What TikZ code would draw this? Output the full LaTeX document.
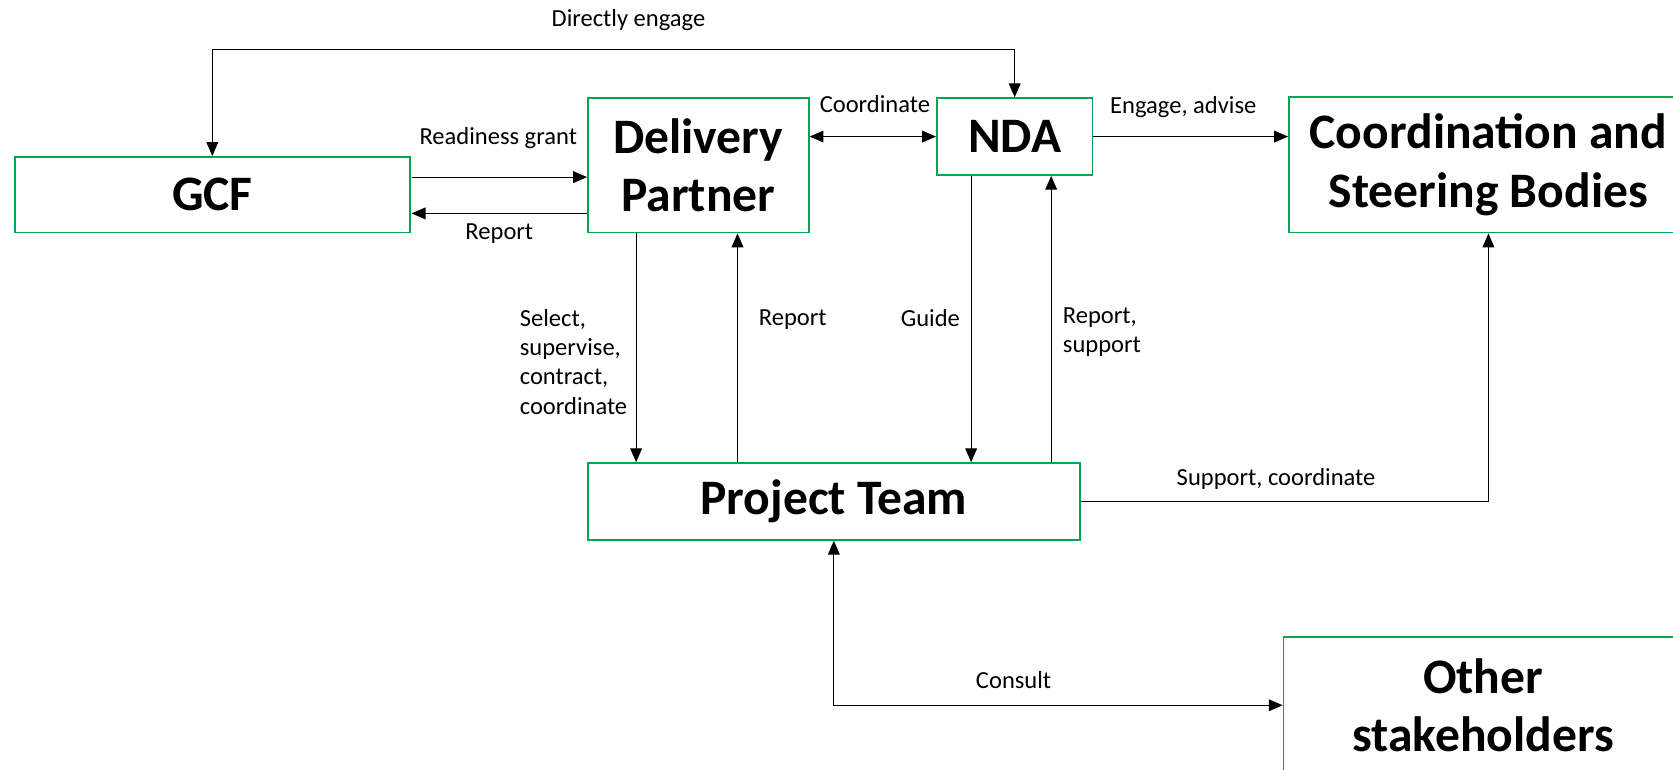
\documentclass[tikz,border=0pt]{standalone}
\usepackage{fontspec}
\setmainfont{Carlito}
\usetikzlibrary{arrows.meta,calc}
\definecolor{boxgreen}{RGB}{0,166,80}
\tikzset{
  entity/.style={draw=boxgreen,line width=1.6pt,inner sep=0pt,align=center,
    font=\fontsize{46.5}{55}\selectfont\bfseries},
  flow/.style={line width=1.1pt,-{Triangle[length=13pt,width=11pt]}},
  twoway/.style={line width=1.1pt,{Triangle[length=13pt,width=11pt]}-{Triangle[length=13pt,width=11pt]}},
  lbl/.style={inner sep=0pt,font=\fontsize{23}{27.5}\selectfont}
}
\begin{document}
\begin{tikzpicture}[x=1pt,y=1pt,yscale=-1,xscale=1]
\useasboundingbox (0,0) rectangle (1568,721);
\node[entity,minimum width=370pt,minimum height=71pt] (gcf) at (199,182.5) {GCF};
\node[entity,minimum width=207pt,minimum height=126pt] (dp) at (654.5,155) {Delivery\\Partner};
\node[entity,minimum width=146pt,minimum height=72pt] (nda) at (951,128) {NDA};
\node[entity,minimum width=374pt,minimum height=127pt] (csb) at (1395,154.5) {Coordination and\\Steering Bodies};
\node[entity,minimum width=461pt,minimum height=72pt] (pt) at (781.5,470) {Project Team};
\node[entity,minimum width=374pt,minimum height=128pt] (os) at (1390,661) {Other\\stakeholders};

\draw [twoway] (gcf.north) -- ++(0,-100) -| (nda.north);
\coordinate (rg) at ($(gcf.east)+(1,-16.5)$);
\coordinate (rp) at ($(gcf.east)+(1,17.5)$);
\draw [flow] (rg) -- (rg -| dp.west);
\draw [flow] (rp -| dp.west) -- (rp);
\draw [twoway] (nda.west -| dp.east) -- (nda.west);
\draw [flow] (nda.east) -- (nda.east -| csb.west);
\coordinate (sel) at ($(dp.south west)+(46,0)$);
\coordinate (dprep) at ($(dp.south west)+(141,0)$);
\coordinate (gd) at ($(nda.south west)+(33,0)$);
\coordinate (ndarep) at ($(nda.south west)+(108,0)$);
\draw [flow] (sel) -- (sel |- pt.north);
\draw [flow] (dprep |- pt.north) -- (dprep);
\draw [flow] (gd) -- (gd |- pt.north);
\draw [flow] (ndarep |- pt.north) -- (ndarep);
\draw [flow] (pt.east) -| (csb.south);
\draw [twoway] (pt.south) |- (os.west);

\node[lbl] (l1) at (589,19) {Directly engage};
\node[lbl] (l2) at (467,129) {Readiness grant};
\node[lbl] (l3) at (468,219) {Report};
\node[lbl] (l4) at (820,98) {Coordinate};
\node[lbl] (l5) at (1109,100) {Engage, advise};
\node[lbl,anchor=west,align=left] (l6) at (487,339) {Select,\\supervise,\\contract,\\coordinate};
\node[lbl] (l7) at (743,300) {Report};
\node[lbl] (l8) at (872,298) {Guide};
\node[lbl,anchor=west,align=left] (l9) at (996,311.5) {Report,\\support};
\node[lbl] (l10) at (1196,449) {Support, coordinate};
\node[lbl] (l11) at (950,637) {Consult};
\end{tikzpicture}
\end{document}
